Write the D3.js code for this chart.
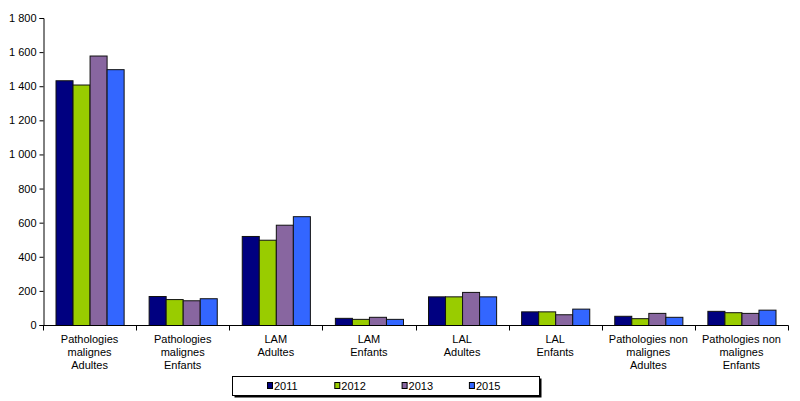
<!DOCTYPE html>
<html><head><meta charset="utf-8">
<script src="https://cdn.jsdelivr.net/npm/d3@7/dist/d3.min.js"></script>
<style>body{margin:0;background:#fff}svg{display:block;font-family:"Liberation Sans",Arial,sans-serif}</style>
</head><body>
<svg id="c" width="800" height="401"></svg>
<script>
const categories = [
  ["Pathologies","malignes","Adultes"],
  ["Pathologies","malignes","Enfants"],
  ["LAM","Adultes"],
  ["LAM","Enfants"],
  ["LAL","Adultes"],
  ["LAL","Enfants"],
  ["Pathologies non","malignes","Adultes"],
  ["Pathologies non","malignes","Enfants"]
];
const years = ["2011","2012","2013","2015"];
const colors = ["#000080","#99CC00","#8866A0","#3366FF"];
const v2011 = [1435,170,522,42,168,80,54,83];
const v2012 = [1410,152,500,36,168,80,40,75];
const v2013 = [1580,145,588,48,194,63,71,71];
const v2015 = [1500,157,638,36,168,96,48,90];
const series = [v2011,v2012,v2013,v2015];
const yTicks = [0,200,400,600,800,1000,1200,1400,1600,1800];

const svg = d3.select("#c");
const mLeft = 43, mRight = 788, mTop = 18, mBottom = 325;
const x = d3.scaleBand().domain(d3.range(categories.length)).range([mLeft,mRight]).padding(0);
const xi = d3.scaleBand().domain(d3.range(years.length)).range([12.5, x.bandwidth()-12.5]).padding(0);
const y = d3.scaleLinear().domain([0,1800]).range([mBottom,mTop]);
const fmt = v => d3.format(",")(v).replace(/,/g," ");

// bars
series.forEach((s,si)=>{
  svg.append("g").selectAll("rect").data(s).join("rect")
    .attr("x",(d,i)=>x(i)+xi(si)+0.5)
    .attr("y",d=>y(d)+0.5)
    .attr("width",xi.bandwidth())
    .attr("height",d=>y(0)-y(d))
    .attr("fill",colors[si])
    .attr("stroke","#111").attr("stroke-width",1);
});

// y axis
const ya = svg.append("g").attr("transform",`translate(${mLeft+0.5},0)`)
  .call(d3.axisLeft(y).tickValues(yTicks).tickSize(4).tickFormat(fmt).tickPadding(3));
ya.select(".domain").attr("stroke","#000");
ya.selectAll("line").attr("stroke","#000");
ya.selectAll("text").attr("font-size","11px").attr("fill","#000").style("font-family","'Liberation Sans',Arial,sans-serif");

// x axis
const xa = svg.append("g").attr("transform",`translate(0,${mBottom+0.5})`);
xa.append("line").attr("x1",mLeft).attr("x2",mRight+0.5).attr("stroke","#000");
xa.selectAll("line.t").data(d3.range(categories.length+1)).join("line").attr("class","t")
  .attr("x1",i=>Math.round(mLeft+i*x.step())+0.5).attr("x2",i=>Math.round(mLeft+i*x.step())+0.5)
  .attr("y1",0).attr("y2",5).attr("stroke","#000");

// category labels
categories.forEach((lines,i)=>{
  const t = svg.append("text").attr("text-anchor","middle").attr("font-size","11px").attr("fill","#000");
  lines.forEach((l,j)=>{
    t.append("tspan").attr("x",x(i)+x.bandwidth()/2).attr("y",343+j*13).text(l);
  });
});

// legend
const lg = svg.append("g");
lg.append("rect").attr("x",234.5).attr("y",378.5).attr("width",307).attr("height",19).attr("fill","#000");
lg.append("rect").attr("x",232.5).attr("y",376.5).attr("width",307).attr("height",19).attr("fill","#fff").attr("stroke","#000");
years.forEach((yr,i)=>{
  const gx = 267 + i*67.3;
  lg.append("rect").attr("x",gx+0.5).attr("y",382.5).attr("width",5).attr("height",6).attr("fill",colors[i]).attr("stroke","#000");
  lg.append("text").attr("x",gx+7).attr("y",390).attr("font-size","11px").attr("fill","#000").text(yr);
});
</script>
</body></html>
